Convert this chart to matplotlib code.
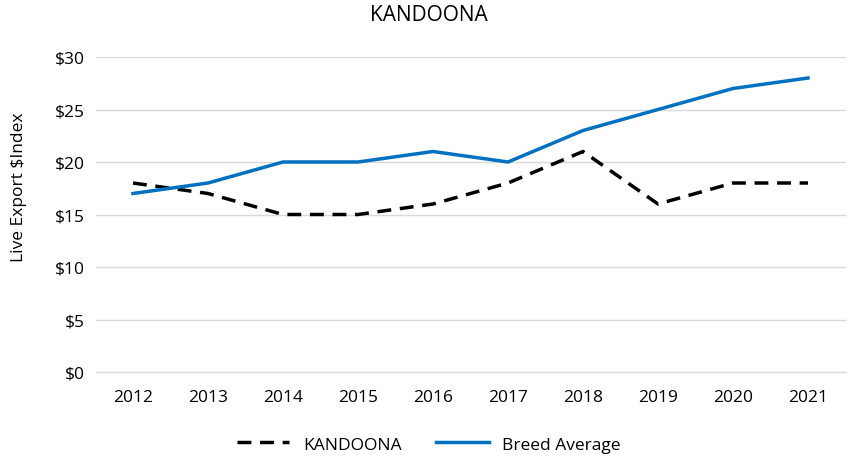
import matplotlib
matplotlib.use("Agg")
import matplotlib.pyplot as plt
from matplotlib.ticker import FuncFormatter

plt.rcParams["font.family"] = ["Open Sans", "DejaVu Sans"]

years = ["2012", "2013", "2014", "2015", "2016", "2017", "2018", "2019", "2020", "2021"]
kandoona = [18, 17, 15, 15, 16, 18, 21, 16, 18, 18]
breed_avg = [17, 18, 20, 20, 21, 20, 23, 25, 27, 28]

fig = plt.figure(figsize=(8.58, 4.6), dpi=100)
ax = fig.add_axes([95.5 / 858, 87 / 460, 750 / 858, 315 / 460])

x = range(len(years))
ax.plot(x, kandoona, color="black", lw=2.5, ls=(0, (4, 2.5)), label="KANDOONA")
ax.plot(x, breed_avg, color="#0070C0", lw=2.5, label="Breed Average")

ax.set_xlim(-0.5, len(years) - 0.5)
ax.set_ylim(0, 30)
ax.set_yticks(range(0, 31, 5))
ax.yaxis.set_major_formatter(FuncFormatter(lambda v, p: f"${v:.0f}"))
ax.set_xticks(list(x))
ax.set_xticklabels(years)
ax.grid(axis="y", color="#D9D9D9", lw=1)
ax.set_axisbelow(True)
for s in ["top", "right", "left"]:
    ax.spines[s].set_visible(False)
ax.spines["bottom"].set_color("#D9D9D9")
ax.tick_params(axis="both", length=0, labelsize=12.5, colors="black")
ax.tick_params(axis="x", pad=12)
ax.tick_params(axis="y", pad=8)
ax.set_ylabel("Live Export $Index", fontsize=12.5)
ax.yaxis.set_label_coords(-(95.5 - 27) / 750, 0.59)

fig.suptitle("KANDOONA", y=0.99, fontsize=15)
fig.legend(loc="lower center", bbox_to_anchor=(0.5, -0.02), ncol=2, frameon=False,
           fontsize=12.5, handlelength=3, columnspacing=2)

fig.savefig("out.png", dpi=100)
